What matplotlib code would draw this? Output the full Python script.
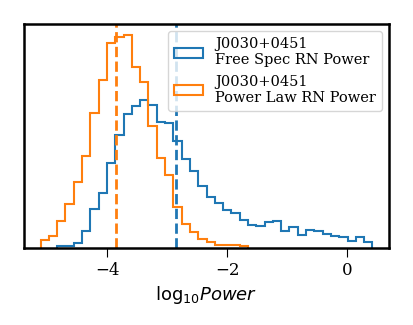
import numpy as np
import matplotlib
matplotlib.use('Agg')
import matplotlib.pyplot as plt

plt.rcParams.update({'font.family': 'serif', 'font.serif': ['DejaVu Serif'],
                     'mathtext.fontset': 'dejavusans'})

# shared binning (40 bins)
bin_lo, bin_hi, n_bins = -5.11, 0.415, 40

# Power law RN: bins 0..24
pl_counts = [8, 12.3, 27.3, 44, 65.7, 92.3, 134.7, 168, 205, 210.5,
             213.3, 180.7, 165.7, 122.3, 90, 73.3, 41.3, 23.5, 15.5, 9,
             5.5, 3.3, 3, 3, 2.3]
# Free spec RN: bins 2..39
fs_counts = [1.5, 1.5, 4.7, 16.5, 39, 55, 84.5, 113.3, 133.5, 142.3,
             148.3, 143, 126, 125, 106.5, 89, 77, 62.3, 50.7, 45,
             38, 35, 28, 23, 22.3, 26.3, 27.3, 16.5, 20.5, 12.7,
             18, 16.5, 14.3, 12, 10.7, 7, 10.5, 5.5]
fs_first_bin = 2

fs_median = -2.855
pl_median = -3.856

labels = ['J0030+0451\nFree Spec RN Power', 'J0030+0451\nPower Law RN Power']
xticks = [-4, -2, 0]

edges = np.linspace(bin_lo, bin_hi, n_bins + 1)
pl_edges = edges[:len(pl_counts) + 1]
fs_edges = edges[fs_first_bin:fs_first_bin + len(fs_counts) + 1]

fig = plt.figure(figsize=(4.14, 3.25), dpi=100)
ax = fig.add_axes([24 / 414, 1 - 248 / 325, 365 / 414, 224 / 325])

ax.hist(fs_edges[:-1], bins=fs_edges, weights=fs_counts, histtype='step',
        color='C0', lw=1.5, label=labels[0])
ax.hist(pl_edges[:-1], bins=pl_edges, weights=pl_counts, histtype='step',
        color='C1', lw=1.5, label=labels[1])
ax.axvline(fs_median, color='C0', ls='--', lw=2)
ax.axvline(pl_median, color='C1', ls='--', lw=2)

ax.set_xticks(xticks)
ax.set_yticks([])
ax.tick_params(axis='x', labelsize=12, length=6.5, width=0.8)
for s in ax.spines.values():
    s.set_linewidth(1.8)
ax.set_xlabel(r'$\mathrm{log}_{10}Power$', fontsize=13)
ax.legend(loc='upper right', fontsize=10.5)

fig.savefig('out.png', dpi=100)
